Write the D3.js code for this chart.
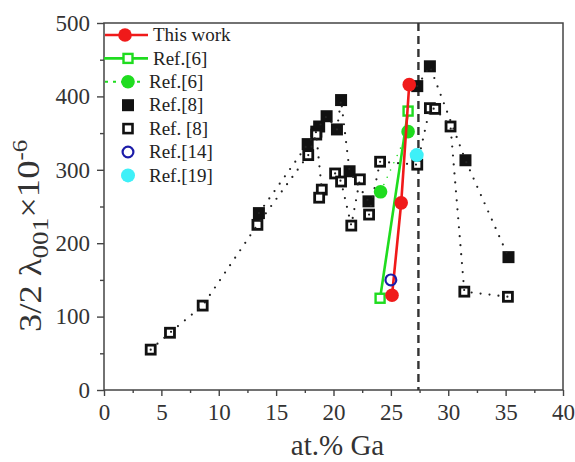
<!DOCTYPE html>
<html>
<head>
<meta charset="utf-8">
<script src="https://cdn.jsdelivr.net/npm/d3@7"></script>
<style>
	body { margin: 0; background: #fff; }
	svg text { font-family: "Liberation Serif", "Times New Roman", serif !important; }
	.axis text { font-size: 23px; fill: #333; }
	.axis line { stroke: #444; stroke-width: 1.4; }
	.legend text { font-size: 19px; fill: #222; }
	.axisLabel { fill: #333; }
</style>
</head>
<body>
<script>
;((window, d3) => {
	'use strict';

	// [at.% Ga, 3/2 lambda001 (x10^-6)]
	var thisWork   = [[25.1, 129], [25.9, 255], [26.6, 416]];
	var ref6Open   = [[24.06, 125], [26.5, 380]];
	var ref6Filled = [[24.1, 270], [26.5, 352]];
	var ref14      = [[25.0, 150]];
	var ref19      = [[27.25, 320]];

	var ref8Filled = [
		[13.5, 241], [17.75, 335], [18.5, 352], [18.75, 359], [19.4, 373], [20.3, 355],
		[20.66, 395], [21.4, 298], [23.05, 257], [27.3, 414], [28.4, 441], [31.5, 313], [35.25, 181]
	];
	var ref8Open = [
		[4.07, 55], [5.75, 78], [8.6, 115], [13.37, 225], [17.8, 320], [18.5, 348], [18.98, 273],
		[18.75, 262], [20.14, 295], [20.66, 284], [21.55, 224], [22.3, 287], [23.1, 239], [24.06, 311],
		[27.3, 307], [28.4, 384], [28.86, 383], [30.2, 359], [31.4, 134], [35.2, 127]
	];

	// which Ref.[8] points are joined by the dotted guide lines (indices into the arrays above)
	var ref8FilledChains = [[0, 1, 2, 3, 4, 5, 6, 7, 8], [9, 10, 11, 12]];
	var ref8OpenChains   = [[0, 1, 2, 3, 4, 5, 6, 7], [8, 9, 10, 11], [12, 13, 14, 15, 16, 17, 18, 19]];

	var boundaryGa = 27.4;

	var xTicks      = [0, 5, 10, 15, 20, 25, 30, 35, 40];
	var xMinorTicks = [2.5, 7.5, 12.5, 17.5, 22.5, 27.5, 32.5, 37.5];
	var yTicks      = [0, 100, 200, 300, 400, 500];
	var yMinorTicks = [50, 150, 250, 350, 450];

	var legendItems = [
		{ label: "This work", key: "thisWork" },
		{ label: "Ref.[6]",   key: "ref6Open" },
		{ label: "Ref.[6]",   key: "ref6Filled" },
		{ label: "Ref.[8]",   key: "ref8Filled" },
		{ label: "Ref. [8]",  key: "ref8Open" },
		{ label: "Ref.[14]",  key: "ref14" },
		{ label: "Ref.[19]",  key: "ref19" }
	];

	var RED = "#f01a1a", GREEN = "#1fdc1f", NAVY = "#1c1ca8", CYAN = "#3ef0f8", INK = "#111";

	var W = 575, H = 462;
	var margin = { top: 23, right: 12, bottom: 72, left: 104 },
		width  = W - margin.left - margin.right,
		height = H - margin.top - margin.bottom;

	var root = d3.select("body").append("svg")
		.attr("width", W)
		.attr("height", H);

	var svg = root.append("g")
		.attr("transform", "translate(" + margin.left + "," + margin.top + ")");

	var x = d3.scaleLinear().domain([0, 40]).range([0, width]);
	var y = d3.scaleLinear().domain([0, 500]).range([height, 0]);

	///////////////////////////////////////////////////////////////////////////
	//////////////////////////// Axes & frame /////////////////////////////////
	///////////////////////////////////////////////////////////////////////////

	function noDomain(g) { g.select(".domain").remove(); }

	svg.append("g").attr("class", "axis")
		.attr("transform", "translate(0," + height + ")")
		.call(d3.axisBottom(x).tickValues(xTicks).tickSize(6).tickPadding(8))
		.call(noDomain);
	svg.append("g").attr("class", "axis")
		.attr("transform", "translate(0," + height + ")")
		.call(d3.axisBottom(x).tickValues(xMinorTicks).tickSize(3).tickFormat(""))
		.call(noDomain);

	svg.append("g").attr("class", "axis")
		.call(d3.axisLeft(y).tickValues(yTicks).tickSize(7).tickPadding(7))
		.call(noDomain);
	svg.append("g").attr("class", "axis")
		.call(d3.axisLeft(y).tickValues(yMinorTicks).tickSize(4).tickFormat(""))
		.call(noDomain);

	svg.append("rect")
		.attr("width", width)
		.attr("height", height)
		.attr("fill", "none")
		.attr("stroke", "#444")
		.attr("stroke-width", 1.5);

	// dashed phase boundary
	svg.append("line")
		.attr("x1", x(boundaryGa)).attr("x2", x(boundaryGa))
		.attr("y1", y(500)).attr("y2", y(0))
		.attr("stroke", "#333")
		.attr("stroke-width", 2.4)
		.attr("stroke-dasharray", "8,5");

	///////////////////////////////////////////////////////////////////////////
	//////////////////////////// Ref.[8] squares //////////////////////////////
	///////////////////////////////////////////////////////////////////////////

	var line = d3.line().x(d => x(d[0])).y(d => y(d[1]));

	svg.selectAll(".sqFilled")
		.data(ref8Filled)
		.enter().append("rect")
		.attr("x", d => x(d[0]) - 6)
		.attr("y", d => y(d[1]) - 6)
		.attr("width", 12).attr("height", 12)
		.attr("fill", INK);

	svg.selectAll(".sqOpen")
		.data(ref8Open)
		.enter().append("rect")
		.attr("x", d => x(d[0]) - 4.5)
		.attr("y", d => y(d[1]) - 4.5)
		.attr("width", 9).attr("height", 9)
		.attr("fill", "#fff")
		.attr("stroke", INK)
		.attr("stroke-width", 2.8);

	// dotted guides, drawn on top so a dot sits in each hollow square
	function dotted(points) {
		svg.append("path")
			.attr("d", line(points))
			.attr("fill", "none").attr("stroke", "#222")
			.attr("stroke-width", 2.2).attr("stroke-linecap", "round")
			.attr("stroke-dasharray", "0,9");
	}
	ref8FilledChains.forEach(chain => dotted(chain.map(i => ref8Filled[i])));
	ref8OpenChains.forEach(chain => dotted(chain.map(i => ref8Open[i])));

	///////////////////////////////////////////////////////////////////////////
	//////////////////////////// Coloured series //////////////////////////////
	///////////////////////////////////////////////////////////////////////////

	// Ref.[6] filled circles, faint green dots between them
	svg.append("path")
		.attr("d", line(ref6Filled))
		.attr("fill", "none").attr("stroke", GREEN)
		.attr("stroke-width", 1.6).attr("stroke-linecap", "round")
		.attr("stroke-dasharray", "0,8");
	svg.selectAll(".g6f").data(ref6Filled).enter().append("circle")
		.attr("cx", d => x(d[0])).attr("cy", d => y(d[1]))
		.attr("r", 6.8).attr("fill", GREEN);

	// Ref.[6] open squares, solid green
	svg.append("path")
		.attr("d", line(ref6Open))
		.attr("fill", "none").attr("stroke", GREEN).attr("stroke-width", 2.6);
	svg.selectAll(".g6o").data(ref6Open).enter().append("rect")
		.attr("x", d => x(d[0]) - 4.5).attr("y", d => y(d[1]) - 4.5)
		.attr("width", 9).attr("height", 9)
		.attr("fill", "#fff").attr("stroke", GREEN).attr("stroke-width", 2.4);

	// this work, red
	svg.append("path")
		.attr("d", line(thisWork))
		.attr("fill", "none").attr("stroke", RED).attr("stroke-width", 2.6);
	svg.selectAll(".tw").data(thisWork).enter().append("circle")
		.attr("cx", d => x(d[0])).attr("cy", d => y(d[1]))
		.attr("r", 6.8).attr("fill", RED);

	svg.selectAll(".r14").data(ref14).enter().append("circle")
		.attr("cx", d => x(d[0])).attr("cy", d => y(d[1]))
		.attr("r", 5.4).attr("fill", "none").attr("stroke", NAVY).attr("stroke-width", 2.2);

	svg.selectAll(".r19").data(ref19).enter().append("circle")
		.attr("cx", d => x(d[0])).attr("cy", d => y(d[1]))
		.attr("r", 7).attr("fill", CYAN);

	///////////////////////////////////////////////////////////////////////////
	//////////////////////////// Legend ///////////////////////////////////////
	///////////////////////////////////////////////////////////////////////////

	var legend = root.append("g").attr("class", "legend");
	var rowY = i => 35 + i * 23.4;
	var mx = 128;

	legendItems.forEach(function(item, i) {
		var g = legend.append("g").attr("transform", "translate(0," + rowY(i) + ")");
		var tx = 149;
		if (item.key === "thisWork") {
			g.append("line").attr("x1", 105).attr("x2", 148).attr("stroke", RED).attr("stroke-width", 2.6);
			g.append("circle").attr("cx", 125).attr("r", 6.8).attr("fill", RED);
			tx = 153;
		} else if (item.key === "ref6Open") {
			g.append("line").attr("x1", 104).attr("x2", 148).attr("stroke", GREEN).attr("stroke-width", 2.6);
			g.append("rect").attr("x", mx - 4.5).attr("y", -4.5).attr("width", 9).attr("height", 9)
				.attr("fill", "#fff").attr("stroke", GREEN).attr("stroke-width", 2.4);
			tx = 153;
		} else if (item.key === "ref6Filled") {
			g.append("line").attr("x1", 105).attr("x2", 142).attr("stroke", GREEN).attr("stroke-width", 2)
				.attr("stroke-dasharray", "3,5");
			g.append("circle").attr("cx", mx).attr("r", 6.8).attr("fill", GREEN);
		} else if (item.key === "ref8Filled") {
			g.append("rect").attr("x", mx - 6).attr("y", -6).attr("width", 12).attr("height", 12).attr("fill", INK);
		} else if (item.key === "ref8Open") {
			g.append("rect").attr("x", mx - 4.5).attr("y", -4.5).attr("width", 9).attr("height", 9)
				.attr("fill", "#fff").attr("stroke", INK).attr("stroke-width", 2.6);
		} else if (item.key === "ref14") {
			g.append("circle").attr("cx", mx).attr("r", 5.4).attr("fill", "none")
				.attr("stroke", NAVY).attr("stroke-width", 2.2);
		} else {
			g.append("circle").attr("cx", mx).attr("r", 7).attr("fill", CYAN);
		}
		g.append("text").attr("x", tx).attr("dy", "0.33em").text(item.label);
	});

	///////////////////////////////////////////////////////////////////////////
	//////////////////////////// Axis titles //////////////////////////////////
	///////////////////////////////////////////////////////////////////////////

	root.append("text")
		.attr("class", "axisLabel")
		.attr("x", margin.left + x(20) + 4)
		.attr("y", 455)
		.attr("text-anchor", "middle")
		.style("font-size", "29px")
		.text("at.% Ga");

	// y title, stretched a little along its length like the original
	var yl = root.append("text")
		.attr("class", "axisLabel")
		.attr("text-anchor", "middle")
		.attr("transform", "translate(41,236)rotate(-90)scale(1.18,1)")
		.style("font-size", "31px");
	yl.append("tspan").text("3/2 \u03bb");
	yl.append("tspan").attr("dy", "0.3em").style("font-size", "23px").text("001");
	yl.append("tspan").attr("dy", "-0.3em").text("\u00d710");
	yl.append("tspan").attr("dy", "-0.55em").style("font-size", "21px").text("-6");

})(window, window.d3);
</script>
</body>
</html>
